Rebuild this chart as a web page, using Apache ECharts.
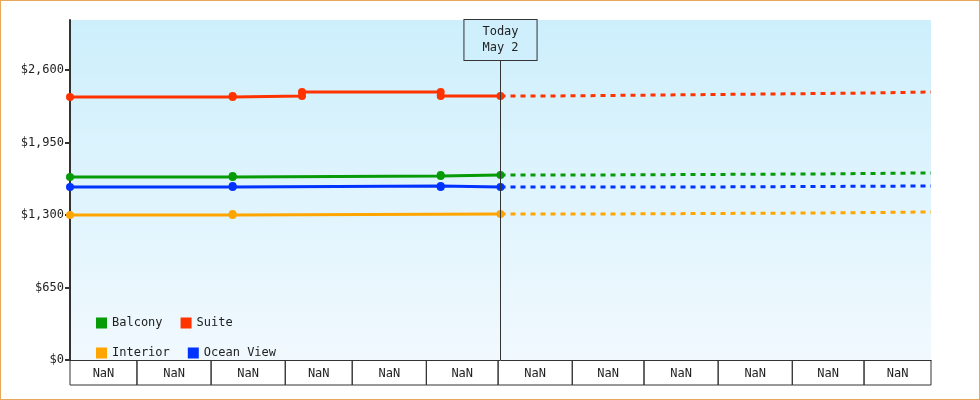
<!DOCTYPE html><html><head><meta charset="utf-8">
<script src="https://cdn.jsdelivr.net/npm/echarts@6/dist/echarts.min.js"></script>
<style>html,body{margin:0;padding:0;background:#fff}#c{width:978px;height:398px;border:1px solid #e8a85a}</style></head><body><div id="c"></div>
<script>
const axisStart='2022-11-03', axisEnd='2023-10-29', today='2023-05-02';
const yTicks=[0,650,1300,1950,2600];
const months=[['2022-11-03','2022-12-01','Nov'],['2022-12-01','2023-01-01','Dec'],['2023-01-01','2023-02-01','Jan'],['2023-02-01','2023-03-01','Feb'],['2023-03-01','2023-04-01','Mar'],['2023-04-01','2023-05-01','Apr'],['2023-05-01','2023-06-01','May'],['2023-06-01','2023-07-01','Jun'],['2023-07-01','2023-08-01','Jul'],['2023-08-01','2023-09-01','Aug'],['2023-09-01','2023-10-01','Sep'],['2023-10-01','2023-10-29','Oct']];
const balconyHist=[['2022-11-03',1641],['2023-01-10',1641],['2023-01-10',1650],['2023-04-07',1650],['2023-04-07',1659],['2023-05-02',1659]];
const suiteHist=[['2022-11-03',2358],['2023-01-10',2358],['2023-01-10',2367],['2023-02-08',2367],['2023-02-08',2403],['2023-04-07',2403],['2023-04-07',2367],['2023-05-02',2367]];
const interiorHist=[['2022-11-03',1300],['2023-01-10',1300],['2023-01-10',1309],['2023-05-02',1309]];
const oceanHist=[['2022-11-03',1551],['2023-01-10',1551],['2023-01-10',1560],['2023-04-07',1560],['2023-04-07',1551],['2023-05-02',1551]];
const balconyFut=[['2023-05-02',1659],['2023-06-15',1659],['2023-06-15',1668],['2023-09-12',1668],['2023-09-12',1677],['2023-10-29',1677]];
const suiteFut=[['2023-05-02',2367],['2023-05-25',2367],['2023-05-25',2376],['2023-07-10',2376],['2023-07-10',2385],['2023-08-25',2385],['2023-08-25',2394],['2023-10-05',2394],['2023-10-05',2403],['2023-10-29',2403]];
const interiorFut=[['2023-05-02',1309],['2023-06-15',1309],['2023-06-15',1318],['2023-09-12',1318],['2023-09-12',1327],['2023-10-29',1327]];
const oceanFut=[['2023-05-02',1551],['2023-07-25',1551],['2023-07-25',1560],['2023-10-29',1560]];
const colors={Balcony:'#079b07',Suite:'#ff3300',Interior:'#ffa500','Ocean View':'#0033ff'};
const F='DejaVu Sans Mono';
function hist(name,data,extra){return Object.assign({name,type:'line',data,color:colors[name],lineStyle:{width:3},symbol:'circle',symbolSize:8,z:3,animation:false},extra||{});}
function fut(name,data){return {name,type:'line',data,color:colors[name],lineStyle:{width:3,type:[5,5]},showSymbol:false,z:2,animation:false};}
const chart=echarts.init(document.getElementById('c'));
chart.setOption({
 animation:false,
 textStyle:{fontFamily:F},
 grid:{left:69,right:48,top:19,bottom:39,show:true,borderWidth:0,
   backgroundColor:{type:'linear',x:0,y:0,x2:0,y2:1,colorStops:[{offset:0,color:'#cdeffc'},{offset:1,color:'#f1f9fe'}]}},
 legend:{left:90,top:311,width:200,itemWidth:11,itemHeight:11,icon:'rect',itemGap:18,
   textStyle:{fontFamily:F,fontSize:12,color:'#222'},data:['Balcony','Suite','Interior','Ocean View']},
 xAxis:{type:'time',min:axisStart,max:axisEnd,axisLine:{lineStyle:{color:'#333'}},axisTick:{show:false},axisLabel:{show:false},splitLine:{show:false}},
 yAxis:{type:'value',min:0,max:3048,interval:650,axisLine:{show:true,lineStyle:{color:'#333',width:2}},axisTick:{show:true,length:5,lineStyle:{color:'#333',width:2},customValues:yTicks},
   axisLabel:{fontFamily:F,fontSize:12,color:'#222',margin:6,customValues:yTicks,formatter:v=>'$'+v.toLocaleString('en-US')},splitLine:{show:false}},
 series:[
  hist('Balcony',balconyHist,{markLine:{silent:true,symbol:'none',lineStyle:{color:'#333',width:1,type:'solid'},
    label:{position:'end',formatter:'Today\nMay 2',fontFamily:F,fontSize:12,color:'#222',backgroundColor:'#cfeffc',borderColor:'#333',borderWidth:1,padding:[4,18,4,18],lineHeight:16,distance:-40},
    data:[{xAxis:today}]}}),
  hist('Suite',suiteHist),hist('Interior',interiorHist),hist('Ocean View',oceanHist),
  fut('Balcony',balconyFut),fut('Suite',suiteFut),fut('Interior',interiorFut),fut('Ocean View',oceanFut),
  {type:'custom',clip:false,silent:true,data:months.map(m=>[m[0],m[1],m[2]]),encode:{x:[0,1]},
   renderItem:(p,api)=>{const a=api.coord([api.value(0),0]),b=api.coord([api.value(1),0]);const h=25;
     return {type:'group',children:[
      {type:'line',shape:{x1:a[0],y1:a[1],x2:a[0],y2:a[1]+h},style:{stroke:'#333',lineWidth:1}},
      {type:'line',shape:{x1:a[0],y1:a[1]+h,x2:b[0],y2:b[1]+h},style:{stroke:'#333',lineWidth:1}},
      {type:'line',shape:{x1:b[0],y1:b[1],x2:b[0],y2:b[1]+h},style:{stroke:'#333',lineWidth:1}},
      {type:'text',style:{x:(a[0]+b[0])/2,y:a[1]+h/2+1,text:api.value(2),textAlign:'center',textVerticalAlign:'middle',fontFamily:F,fontSize:12,fill:'#222'}}]};}}
 ]
});
</script></body></html>
